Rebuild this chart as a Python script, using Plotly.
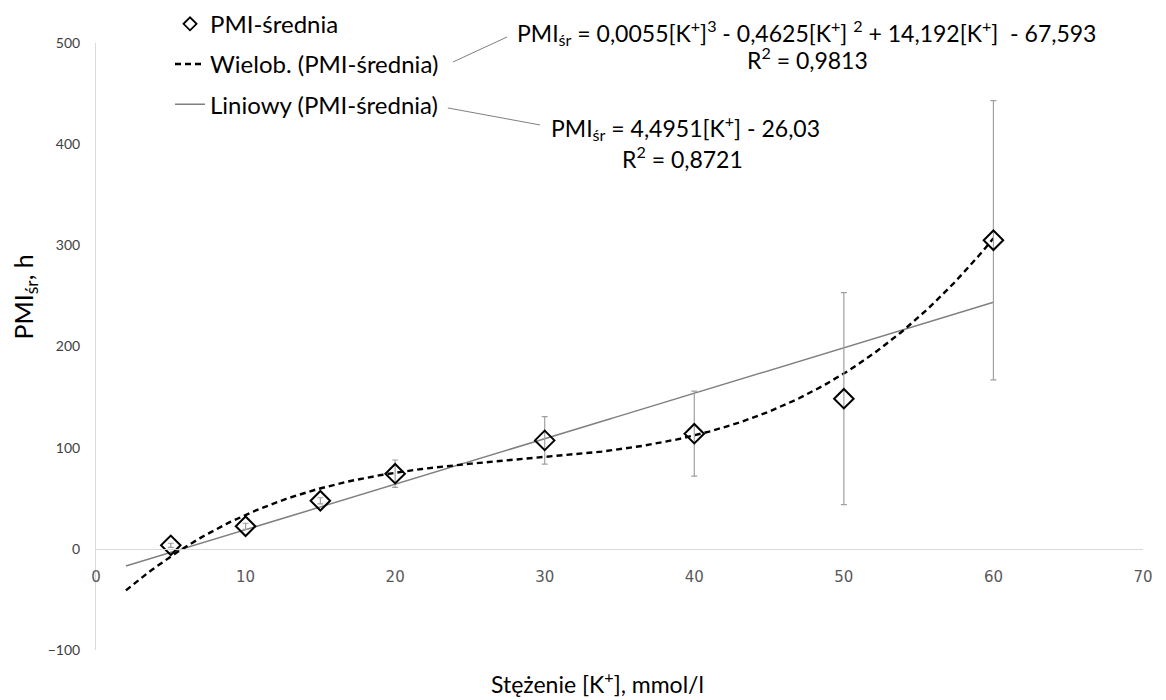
import numpy as np
import plotly.graph_objects as go

# ---- data ----
stezenie = [5, 10, 15, 20, 30, 40, 50, 60]
pmi_srednia = [3.5, 22.3, 47.5, 74.3, 107.2, 113.8, 148.4, 305.0]
pmi_err = [2, 3, 3, 13.5, 23.4, 42.0, 104.8, 138.0]

poly_coef = [0.0055, -0.4625, 14.192, -67.593]   # cubic trend (from label)
lin_coef = [4.4951, -26.03]                      # linear trend (from label)
trend_start = 2
trend_end = 60

x_ticks = [0, 10, 20, 30, 40, 50, 60, 70]
y_ticks = [-100, 0, 100, 200, 300, 400, 500]
x_range = [0, 70]
y_range = [-100, 500]

FONT = "Lato"

xs = np.linspace(trend_start, trend_end, 300)
poly_y = np.polyval(poly_coef, xs)
lin_y = np.polyval(lin_coef, xs)

fig = go.Figure()

fig.add_trace(go.Scatter(
    x=xs, y=lin_y, mode="lines", name="Liniowy (PMI-średnia)",
    line=dict(color="#808080", width=1.5), legendrank=3, legendgroup="c",
    hoverinfo="skip"))
fig.add_trace(go.Scatter(
    x=xs, y=poly_y, mode="lines", name="Wielob. (PMI-średnia)",
    line=dict(color="#000000", width=2.4, dash="6px,4px"), legendrank=2, legendgroup="b",
    hoverinfo="skip"))
fig.add_trace(go.Scatter(
    x=stezenie, y=pmi_srednia, mode="markers", name="PMI-średnia",
    marker=dict(symbol="diamond-open", size=15, color="#000000", line=dict(width=2)),
    error_y=dict(type="data", array=pmi_err, visible=True, color="#a0a0a0",
                 thickness=1.2, width=3),
    showlegend=False, legendgroup="a"))
# legend entry for the data series (smaller symbol, as in the reference legend)
fig.add_trace(go.Scatter(
    x=[None], y=[None], mode="markers", name="PMI-średnia",
    marker=dict(symbol="diamond-open", size=10, color="#000000", line=dict(width=1.8)),
    legendrank=1, legendgroup="a"))

zero_pos = (0 - y_range[0]) / (y_range[1] - y_range[0])

# page has an 8px body margin: figure is 8px smaller on each side
fig.update_layout(
    width=1158, height=692,
    margin=dict(l=88, r=23, t=35, b=50, autoexpand=False),
    paper_bgcolor="white", plot_bgcolor="white",
    font=dict(family=FONT, color="#000000"),
    showlegend=True,
    legend=dict(x=0.0707, y=1.068, xanchor="left", yanchor="top",
                font=dict(family=FONT, size=24, color="#000000"),
                bgcolor="rgba(0,0,0,0)", tracegroupgap=6, itemwidth=30),
    xaxis=dict(range=x_range, tickvals=x_ticks, showgrid=False, zeroline=False,
               showline=True, linecolor="#d9d9d9", linewidth=1,
               anchor="free", position=zero_pos, ticks="",
               tickfont=dict(family="DejaVu Sans", size=15, color="#595959"),
               ticklabelstandoff=14),
    yaxis=dict(range=y_range, tickvals=y_ticks, showgrid=False, zeroline=False,
               showline=True, linecolor="#d9d9d9", linewidth=1, ticks="",
               tickfont=dict(family=FONT, size=14, color="#404040"),
               ticklabelstandoff=12),
)

ann_font = dict(family=FONT, size=23, color="#000000")
common = dict(xref="paper", yref="paper", showarrow=False,
              xanchor="center", yanchor="middle")
fig.add_annotation(x=0.479, y=-0.054, text="Stężenie [K<sup>+</sup>], mmol/l",
                   font=dict(family=FONT, size=23, color="#000000"), **common)
fig.add_annotation(x=-0.068, y=0.582, text="PMI<sub>śr</sub>, h", textangle=-90,
                   font=dict(family=FONT, size=25, color="#000000"), **common)

fig.add_annotation(x=0.679, y=1.018,
                   text="PMI<sub>śr</sub> = 0,0055[K<sup>+</sup>]<sup>3</sup> - 0,4625[K<sup>+</sup>] <sup>2</sup> + 14,192[K<sup>+</sup>]  - 67,593",
                   font=ann_font, **common)
fig.add_annotation(x=0.680, y=0.975, text="R<sup>2</sup> = 0,9813", font=ann_font, **common)
fig.add_annotation(x=0.5626, y=0.860,
                   text="PMI<sub>śr</sub> = 4,4951[K<sup>+</sup>] - 26,03",
                   font=ann_font, **common)
fig.add_annotation(x=0.5597, y=0.812, text="R<sup>2</sup> = 0,8721", font=ann_font, **common)

fig.add_shape(type="line", xref="paper", yref="paper", x0=0.341, y0=0.9687, x1=0.3926, y1=1.0099,
              line=dict(color="#808080", width=1))
fig.add_shape(type="line", xref="paper", yref="paper", x0=0.336, y0=0.893, x1=0.424, y1=0.865,
              line=dict(color="#808080", width=1))

fig.write_html("out.html")
